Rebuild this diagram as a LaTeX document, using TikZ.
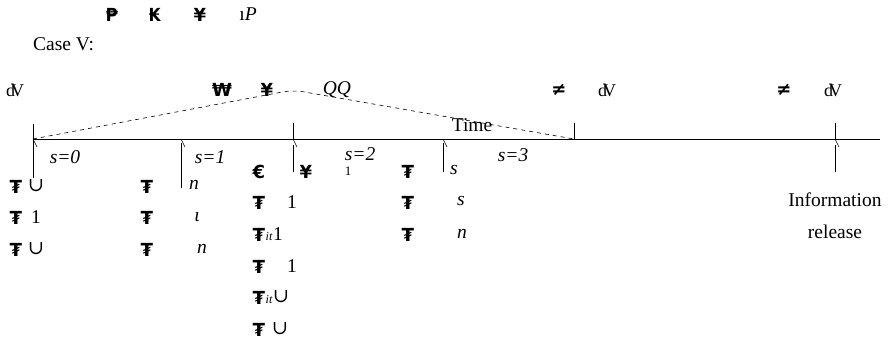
\documentclass[tikz,border=0pt]{standalone}
\usepackage{fontspec}
\setmainfont{Liberation Serif}
\newfontfamily\symf{DejaVu Sans}
\newfontfamily\symserif{DejaVu Serif}
\begin{document}
\begin{tikzpicture}[x=1pt,y=-1pt,
  txt/.style={inner sep=0pt,font=\fontsize{19.5}{23}\selectfont},
  itx/.style={inner sep=0pt,font=\fontsize{19.5}{23}\selectfont\itshape},
  gly/.style={inner sep=0pt,font=\fontsize{18}{21}\selectfont\symf\bfseries},
  dvs/.style={inner sep=0pt,font=\fontsize{18}{21}\selectfont},
  sml/.style={inner sep=0pt,font=\fontsize{12}{14}\selectfont\itshape},
  axis/.style={line width=0.8pt},
  tick/.style={line width=0.6pt},
  dsh/.style={dashed,dash pattern=on 4pt off 4pt,line width=0.6pt},
  gdsh/.style={dash pattern=on 3pt off 2pt,line width=0.7pt,gray!70}]
\useasboundingbox (0,0) rectangle (889,350);
% top garbled row
\node[gly] (g1) at (112,15) {₱};
\node[gly] (g2) at (155,15) {₭};
\node[gly] (g3) at (200,15) {¥};
\node[txt] (g4) at (248,14) {ı\textit{P}};
\node[txt,anchor=west] (case) at (33,44) {Case V:};
% row of labels above timeline
\node[dvs] (r1) at (15,90) {d\kern-4pt V};
\node[gly] (r2) at (222,90) {₩};
\node[gly] (r3) at (267,90) {¥};
\node[itx] (r4) at (337,90) {QQ};
\node[gly] (r5) at (559,90) {≠};
\node[dvs] (r6) at (607,90) {d\kern-4pt V};
\node[gly] (r7) at (784,90) {≠};
\node[dvs] (r8) at (833,90) {d\kern-4pt V};
% timeline coordinates
\coordinate (t0) at (33,139);
\coordinate (t1) at (181,139);
\coordinate (t2) at (293,139);
\coordinate (t3) at (443,139);
\coordinate (t4) at (574,139);
\coordinate (t5) at (835,139);
\coordinate (tend) at (880,139);
\coordinate (apex) at (293,90);
% dashed profile
\draw[dsh,rounded corners=10pt] (t0) -- (apex) -- (t4);
\draw[gdsh] ([yshift=-0.6pt]t4) -- ([yshift=-0.6pt]t5);
\draw[axis] (t0) -- (tend);
% ticks above
\draw[tick] (33,124) -- (33,178);
\draw[tick] (293,123) -- (t2);
\draw[tick] (574,123) -- (t4);
\draw[tick] (835,123) -- (t5);
% slashes below
\foreach \x in {33,181,293,443,835} \draw[tick] (\x,139) -- (\x+4,147);
% verticals below
\draw[tick] (181,143) -- (181,188);
\draw[tick] (293,145) -- (293,172);
\draw[tick] (443,143) -- (443,172);
\draw[tick] (835,145) -- (835,172);
\node[txt] (time) at (472,125) {Time};
% s labels
\node[itx] (s0) at (65,157) {s=0};
\node[itx] (s1) at (210,157) {s=1};
\node[itx] (s2) at (360,154) {s=2};
\node[txt,font=\fontsize{13}{15}\selectfont] (s2b) at (348,171) {1};
\node[itx] (s3) at (513,155) {s=3};
\node[gly] (e1) at (259,172) {€};
\node[gly] (y1) at (306,172) {¥};
% column A
\node[gly] (a1) at (16,187) {₮}; \node[txt] (a1t) at (36,186) {\symserif ∪};
\node[gly] (a2) at (16,218) {₮}; \node[txt] (a2t) at (36,217) {1};
\node[gly] (a3) at (16,250) {₮}; \node[txt] (a3t) at (36,249) {\symserif ∪};
% column B
\node[gly] (b1) at (147,187) {₮}; \node[itx] (b1t) at (194,185) {n};
\node[gly] (b2) at (147,218) {₮}; \node[itx] (b2t) at (197,217) {ι};
\node[gly] (b3) at (147,250) {₮}; \node[itx] (b3t) at (202,249) {n};
% column C
\node[gly] (c1) at (259,203) {₮}; \node[txt] (c1t) at (292,202) {1};
\node[gly] (c2) at (259,235) {₮}; \node[sml] (c2i) at (269,237) {it}; \node[txt] (c2t) at (278,234) {1};
\node[gly] (c3) at (259,267) {₮}; \node[txt] (c3t) at (292,266) {1};
\node[gly] (c4) at (259,298) {₮}; \node[sml] (c4i) at (269,300) {it}; \node[txt] (c4t) at (281,297) {\symserif ∪};
\node[gly] (c5) at (259,330) {₮}; \node[txt] (c5t) at (280,329) {\symserif ∪};
% column D
\node[gly] (d1) at (408,172) {₮}; \node[itx] (d1t) at (454,170) {s};
\node[gly] (d2) at (408,203) {₮}; \node[itx] (d2t) at (461,201) {s};
\node[gly] (d3) at (408,235) {₮}; \node[itx] (d3t) at (462,234) {n};
% information release
\node[txt] (inf) at (835,200) {Information};
\node[txt] (rel) at (835,232) {release};
\end{tikzpicture}
\end{document}
